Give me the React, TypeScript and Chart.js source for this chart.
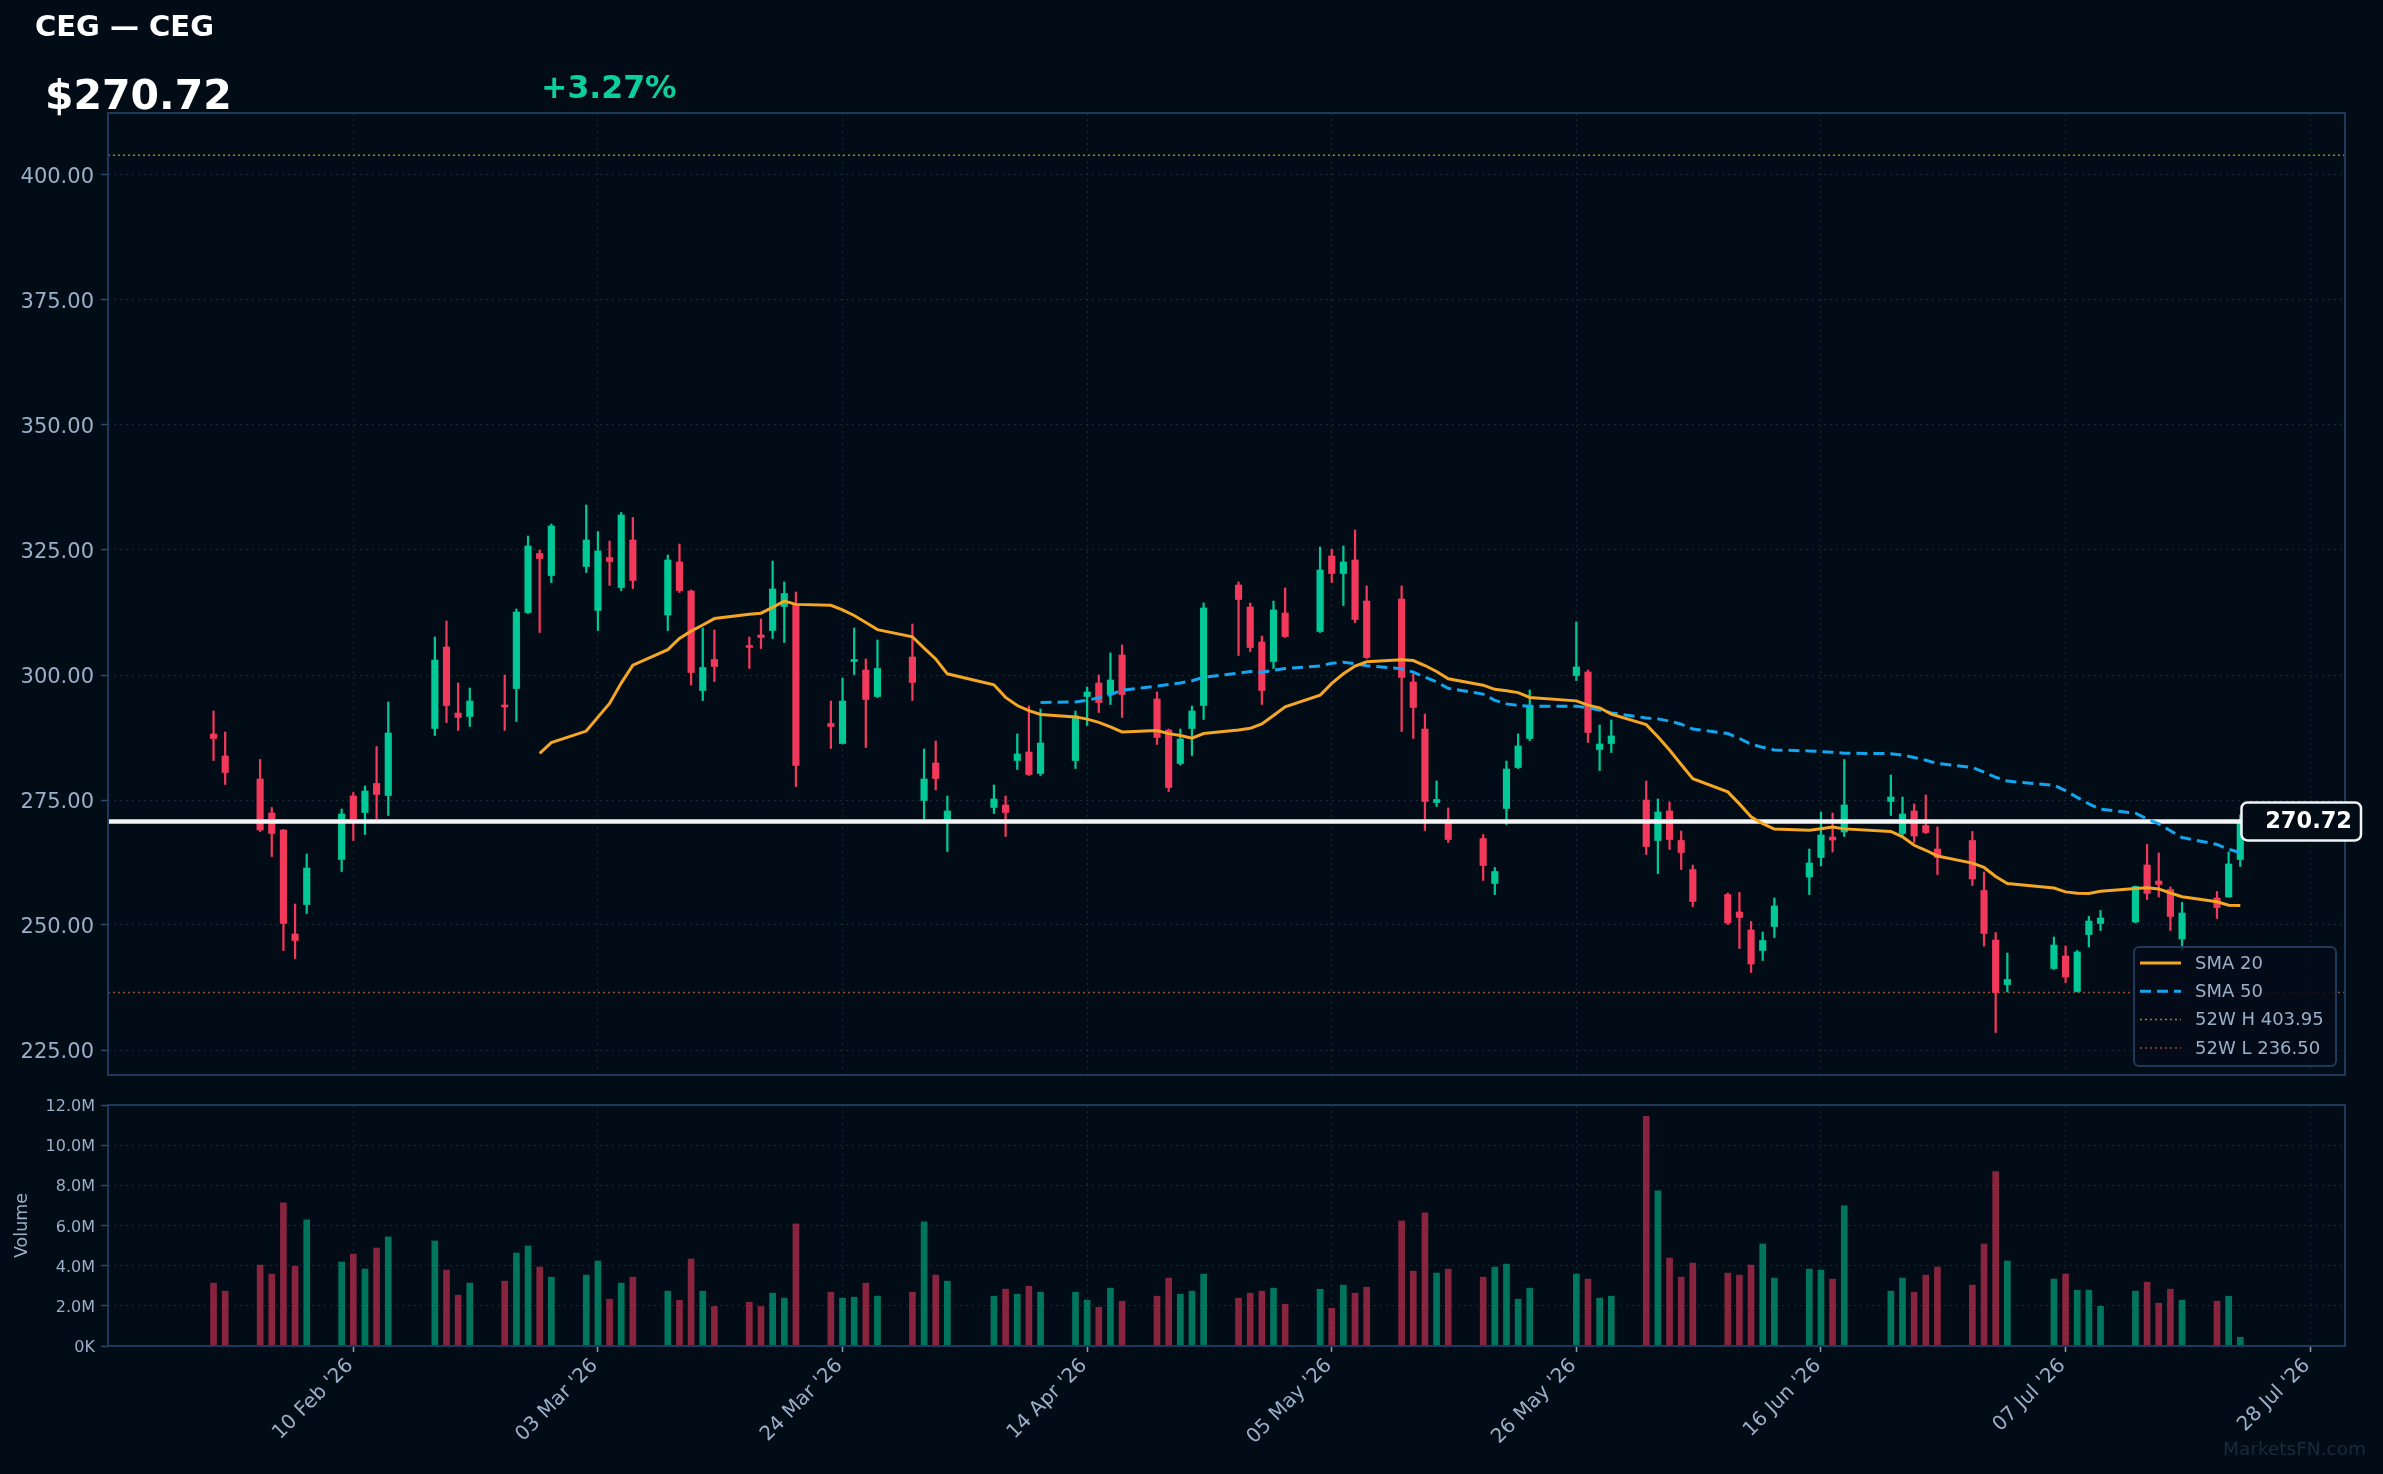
import React, { useEffect, useRef } from "react";
import { Chart, registerables } from "chart.js";

Chart.register(...registerables);

// ---------- DATA ----------
const ticker = "CEG";
const companyName = "CEG";
const lastPrice = 270.72;
const changePct = 3.27;
const high52w = 403.95;
const low52w = 236.5;

const dates: string[] = [
  "2026-01-29", "2026-01-30",
  "2026-02-02", "2026-02-03", "2026-02-04", "2026-02-05", "2026-02-06",
  "2026-02-09", "2026-02-10", "2026-02-11", "2026-02-12", "2026-02-13",
  "2026-02-17", "2026-02-18", "2026-02-19", "2026-02-20",
  "2026-02-23", "2026-02-24", "2026-02-25", "2026-02-26", "2026-02-27",
  "2026-03-02", "2026-03-03", "2026-03-04", "2026-03-05", "2026-03-06",
  "2026-03-09", "2026-03-10", "2026-03-11", "2026-03-12", "2026-03-13",
  "2026-03-16", "2026-03-17", "2026-03-18", "2026-03-19", "2026-03-20",
  "2026-03-23", "2026-03-24", "2026-03-25", "2026-03-26", "2026-03-27",
  "2026-03-30", "2026-03-31", "2026-04-01", "2026-04-02",
  "2026-04-06", "2026-04-07", "2026-04-08", "2026-04-09", "2026-04-10",
  "2026-04-13", "2026-04-14", "2026-04-15", "2026-04-16", "2026-04-17",
  "2026-04-20", "2026-04-21", "2026-04-22", "2026-04-23", "2026-04-24",
  "2026-04-27", "2026-04-28", "2026-04-29", "2026-04-30", "2026-05-01",
  "2026-05-04", "2026-05-05", "2026-05-06", "2026-05-07", "2026-05-08",
  "2026-05-11", "2026-05-12", "2026-05-13", "2026-05-14", "2026-05-15",
  "2026-05-18", "2026-05-19", "2026-05-20", "2026-05-21", "2026-05-22",
  "2026-05-26", "2026-05-27", "2026-05-28", "2026-05-29",
  "2026-06-01", "2026-06-02", "2026-06-03", "2026-06-04", "2026-06-05",
  "2026-06-08", "2026-06-09", "2026-06-10", "2026-06-11", "2026-06-12",
  "2026-06-15", "2026-06-16", "2026-06-17", "2026-06-18",
  "2026-06-22", "2026-06-23", "2026-06-24", "2026-06-25", "2026-06-26",
  "2026-06-29", "2026-06-30", "2026-07-01", "2026-07-02",
  "2026-07-06", "2026-07-07", "2026-07-08", "2026-07-09", "2026-07-10",
  "2026-07-13", "2026-07-14", "2026-07-15", "2026-07-16", "2026-07-17",
  "2026-07-20", "2026-07-21", "2026-07-22",
];

const opens: number[] = [
  288.2, 283.8,
  279.2, 272.4, 269.0, 248.2, 254.1,
  263.1, 275.8, 272.5, 278.3, 275.9,
  289.3, 305.6, 292.4, 291.7,
  293.9, 297.3, 312.5, 324.3, 319.9,
  321.7, 312.9, 323.5, 317.5, 327.0,
  312.0, 322.6, 316.8, 296.9, 303.1,
  305.8, 308.0, 308.9, 313.7, 314.2,
  290.3, 286.3, 302.7, 301.0, 295.7,
  303.6, 274.9, 282.4, 270.5,
  273.5, 274.0, 282.9, 284.6, 280.3,
  282.9, 295.7, 298.4, 296.1, 304.0,
  295.2, 289.0, 282.3, 289.3, 293.9,
  318.0, 313.6, 306.6, 302.7, 312.4,
  308.7, 323.8, 320.3, 323.0, 314.8,
  315.2, 298.6, 289.2, 274.5, 271.0,
  267.3, 258.3, 273.3, 281.5, 287.3,
  299.9, 300.6, 285.1, 286.3,
  275.0, 266.9, 272.8, 266.9, 261.1,
  256.1, 252.6, 249.0, 244.9, 249.7,
  259.6, 263.5, 267.6, 268.6,
  274.7, 268.3, 272.8, 269.9, 265.2,
  266.9, 256.9, 247.0, 238.1,
  241.3, 243.8, 236.7, 248.1, 250.3,
  250.6, 262.0, 258.8, 257.1, 247.2,
  255.4, 255.6, 263.1,
];

const highs: number[] = [
  292.8, 288.6,
  283.1, 273.5, 269.1, 254.2, 264.2,
  273.2, 276.5, 277.8, 285.7, 294.6,
  307.6, 310.8, 298.4, 297.4,
  300.0, 313.2, 327.8, 325.0, 330.2,
  334.0, 328.7, 326.8, 332.5, 331.5,
  324.0, 326.2, 317.0, 309.4, 309.0,
  307.6, 311.2, 322.8, 318.6, 316.6,
  294.8, 299.4, 309.4, 303.2, 307.0,
  310.2, 285.2, 286.8, 275.8,
  278.0, 275.8, 288.2, 293.8, 293.2,
  292.8, 297.6, 300.0, 304.4, 306.0,
  296.6, 289.2, 289.2, 293.8, 314.4,
  318.6, 314.4, 307.8, 314.8, 317.4,
  325.6, 325.2, 325.8, 329.0, 317.8,
  317.8, 300.2, 292.2, 278.8, 273.4,
  268.1, 261.5, 282.8, 288.2, 297.0,
  310.6, 301.0, 290.0, 291.0,
  278.8, 275.2, 274.6, 268.8, 262.0,
  256.4, 256.5, 250.7, 248.6, 255.4,
  265.2, 272.6, 272.4, 283.1,
  280.0, 275.6, 274.2, 276.0, 269.6,
  268.7, 260.6, 248.5, 244.4,
  247.6, 245.8, 244.9, 251.7, 252.9,
  257.8, 266.1, 264.4, 257.6, 254.5,
  256.7, 264.6, 272.0,
];

const lows: number[] = [
  282.9, 278.1,
  268.7, 263.7, 244.9, 243.3, 252.3,
  260.7, 266.9, 268.1, 271.3, 271.9,
  287.9, 290.5, 288.9, 289.7,
  288.9, 290.7, 312.3, 308.5, 318.5,
  320.5, 308.9, 317.9, 316.9, 317.3,
  308.9, 316.5, 298.0, 294.9, 298.7,
  301.3, 305.3, 307.3, 306.5, 277.7,
  285.3, 286.2, 300.1, 285.5, 295.5,
  294.9, 271.2, 277.0, 264.7,
  272.3, 267.7, 281.1, 279.9, 279.9,
  281.3, 289.9, 292.5, 294.1, 291.5,
  286.1, 276.7, 282.0, 283.9, 291.1,
  303.9, 304.7, 294.1, 301.3, 307.5,
  308.5, 318.5, 313.9, 310.5, 303.3,
  288.7, 287.3, 268.9, 273.7, 266.5,
  258.9, 256.1, 270.1, 281.3, 286.9,
  298.9, 286.5, 280.9, 284.5,
  264.1, 260.3, 265.1, 261.1, 253.7,
  250.1, 245.3, 240.5, 242.9, 247.5,
  256.1, 261.8, 264.6, 267.7,
  271.9, 267.6, 266.5, 268.3, 260.1,
  257.9, 245.8, 228.5, 236.6,
  241.1, 238.5, 236.6, 245.6, 248.9,
  250.4, 255.1, 255.6, 248.9, 244.9,
  251.3, 255.6, 261.7,
];

const closes: number[] = [
  287.3, 280.5,
  269.0, 268.3, 250.3, 246.9, 261.4,
  272.2, 271.1, 276.8, 276.1, 288.4,
  303.0, 293.9, 291.5, 294.8,
  293.6, 312.6, 325.8, 323.3, 329.8,
  327.0, 324.8, 322.7, 332.0, 318.9,
  323.0, 316.9, 300.5, 301.5, 301.7,
  305.5, 307.5, 317.2, 316.3, 281.9,
  289.7, 294.8, 303.1, 295.1, 301.3,
  298.5, 279.2, 279.3, 272.8,
  275.2, 272.5, 284.2, 280.1, 286.4,
  291.8, 296.6, 294.5, 299.0, 296.1,
  287.5, 277.5, 287.2, 292.8, 313.4,
  315.1, 305.5, 296.9, 313.0, 307.7,
  321.0, 320.3, 322.6, 311.1, 303.5,
  299.5, 293.5, 274.7, 275.1, 267.1,
  261.9, 260.7, 281.2, 285.8, 293.8,
  301.6, 288.5, 286.2, 287.8,
  265.7, 272.6, 267.1, 264.5, 254.7,
  250.4, 251.5, 242.2, 246.9, 253.8,
  262.4, 268.0, 267.0, 274.0,
  275.6, 272.2, 267.8, 268.5, 263.5,
  259.2, 248.3, 236.5, 239.1,
  246.0, 239.6, 244.6, 250.8, 251.4,
  257.7, 256.3, 258.1, 251.7, 252.4,
  253.5, 262.2, 270.72,
];

// volume in millions of shares
const volumesM: number[] = [
  3.13, 2.73,
  4.03, 3.58, 7.13, 3.97, 6.28,
  4.18, 4.58, 3.83, 4.88, 5.43,
  5.23, 3.78, 2.53, 3.13,
  3.23, 4.63, 4.98, 3.93, 3.43,
  3.53, 4.23, 2.33, 3.13, 3.43,
  2.73, 2.28, 4.33, 2.73, 1.97,
  2.18, 1.97, 2.63, 2.38, 6.08,
  2.68, 2.38, 2.43, 3.13, 2.48,
  2.68, 6.18, 3.53, 3.23,
  2.48, 2.83, 2.58, 2.98, 2.68,
  2.68, 2.28, 1.93, 2.88, 2.23,
  2.48, 3.38, 2.58, 2.73, 3.58,
  2.38, 2.63, 2.73, 2.88, 2.08,
  2.83, 1.88, 3.03, 2.63, 2.93,
  6.23, 3.73, 6.63, 3.63, 3.83,
  3.43, 3.93, 4.08, 2.33, 2.88,
  3.58, 3.33, 2.38, 2.48,
  11.43, 7.73, 4.38, 3.43, 4.13,
  3.63, 3.53, 4.03, 5.08, 3.38,
  3.83, 3.78, 3.33, 6.98,
  2.73, 3.38, 2.68, 3.53, 3.93,
  3.03, 5.08, 8.68, 4.23,
  3.33, 3.58, 2.78, 2.78, 1.98,
  2.73, 3.18, 2.13, 2.83, 2.28,
  2.23, 2.48, 0.43,
];

const xTickDates: string[] = [
  "2026-02-10", "2026-03-03", "2026-03-24", "2026-04-14", "2026-05-05",
  "2026-05-26", "2026-06-16", "2026-07-07", "2026-07-28",
];
const xTickLabels: string[] = [
  "10 Feb '26", "03 Mar '26", "24 Mar '26", "14 Apr '26", "05 May '26",
  "26 May '26", "16 Jun '26", "07 Jul '26", "28 Jul '26",
];
const priceTicks: number[] = [225, 250, 275, 300, 325, 350, 375, 400];
const volumeTicksM: number[] = [0, 2, 4, 6, 8, 10, 12];

// ---------- STYLE ----------
const FONT = "'DejaVu Sans', sans-serif";
const BG = "#020c17";
const FRAME = "#1e3a5a";
const GRID = "rgba(52, 78, 108, 0.45)";
const TICK_TEXT = "#9bafc8";
const UP = "#00c896";
const DOWN = "#f2385b";
const UP_VOL = "rgba(0, 200, 150, 0.56)";
const DOWN_VOL = "rgba(242, 56, 91, 0.56)";
const X_MIN = 18.94;
const X_MAX = 210.99;

function dayNum(s: string): number {
  const [y, m, d] = s.split("-").map(Number);
  return Math.round((Date.UTC(y, m - 1, d) - Date.UTC(2026, 0, 1)) / 86400000);
}

function movingAverage(values: number[], n: number): (number | null)[] {
  return values.map((_, i) =>
    i < n - 1 ? null : values.slice(i - n + 1, i + 1).reduce((a, b) => a + b, 0) / n
  );
}

const xs = dates.map(dayNum);
const tickDays = xTickDates.map(dayNum);
const isUp = (i: number) => closes[i] >= opens[i];

function roundRect(ctx: CanvasRenderingContext2D, x: number, y: number, w: number, h: number, r: number) {
  ctx.beginPath();
  ctx.moveTo(x + r, y);
  ctx.lineTo(x + w - r, y);
  ctx.arcTo(x + w, y, x + w, y + r, r);
  ctx.lineTo(x + w, y + h - r);
  ctx.arcTo(x + w, y + h, x + w - r, y + h, r);
  ctx.lineTo(x + r, y + h);
  ctx.arcTo(x, y + h, x, y + h - r, r);
  ctx.lineTo(x, y + r);
  ctx.arcTo(x, y, x + r, y, r);
  ctx.closePath();
}

const framePlugin = {
  id: "frame",
  afterDraw(chart: any) {
    const { ctx, chartArea: a } = chart;
    ctx.save();
    ctx.strokeStyle = FRAME;
    ctx.lineWidth = 2;
    ctx.strokeRect(a.left, a.top, a.right - a.left, a.bottom - a.top);
    ctx.restore();
  },
};

const overlayPlugin = {
  id: "overlay",
  afterDraw(chart: any) {
    const { ctx, chartArea: a } = chart;
    // legend
    const legendItems = chart.data.datasets.filter((d: any) => d.showInLegend);
    const bw = 202, bh = 119;
    const bx = a.right - 9 - bw, by = a.bottom - 9 - bh;
    ctx.save();
    roundRect(ctx, bx, by, bw, bh, 5);
    ctx.fillStyle = "rgba(2, 12, 23, 0.85)";
    ctx.fill();
    ctx.strokeStyle = FRAME;
    ctx.lineWidth = 2;
    ctx.stroke();
    legendItems.forEach((d: any, i: number) => {
      const cy = by + 16 + i * 28.3;
      ctx.beginPath();
      ctx.setLineDash(d.borderDash || []);
      ctx.strokeStyle = d.borderColor;
      ctx.lineWidth = d.borderWidth;
      ctx.moveTo(bx + 6, cy);
      ctx.lineTo(bx + 47, cy);
      ctx.stroke();
      ctx.setLineDash([]);
      ctx.fillStyle = TICK_TEXT;
      ctx.font = `18px ${FONT}`;
      ctx.textAlign = "left";
      ctx.textBaseline = "middle";
      ctx.fillText(d.label, bx + 61, cy + 1);
    });
    // last price label
    const py = chart.scales.y.getPixelForValue(lastPrice);
    const lx = a.right - 103.5, rw = 119.5, rh = 38;
    roundRect(ctx, lx, py - rh / 2, rw, rh, 6);
    ctx.fillStyle = BG;
    ctx.fill();
    ctx.strokeStyle = "#f4f4f4";
    ctx.lineWidth = 2.5;
    ctx.stroke();
    ctx.fillStyle = "#ffffff";
    ctx.font = `bold 22.5px ${FONT}`;
    ctx.textAlign = "right";
    ctx.textBaseline = "middle";
    ctx.fillText(lastPrice.toFixed(2), lx + rw - 9, py + 1);
    ctx.restore();
  },
};

const noScalePadding = (s: any) => {
  s.paddingTop = 0;
  s.paddingBottom = 0;
};

export default function App() {
  const mainRef = useRef<HTMLCanvasElement>(null);
  const volRef = useRef<HTMLCanvasElement>(null);

  useEffect(() => {
    const sma20 = movingAverage(closes, 20);
    const sma50 = movingAverage(closes, 50);
    const linePts = (arr: (number | null)[]) =>
      arr.map((v, i) => (v == null ? null : { x: xs[i], y: v })).filter(Boolean);

    const candleColor = (c: any) => (isUp(c.dataIndex) ? UP : DOWN);

    const mainChart = new Chart(mainRef.current!, {
      type: "line",
      data: {
        datasets: [
          {
            type: "line",
            label: "SMA 20",
            showInLegend: true,
            data: linePts(sma20),
            borderColor: "#f5a623",
            borderWidth: 3,
            pointRadius: 0,
            tension: 0,
            order: 0,
          } as any,
          {
            type: "line",
            label: "SMA 50",
            showInLegend: true,
            data: linePts(sma50),
            borderColor: "#13a6ee",
            borderWidth: 3,
            borderDash: [11, 6],
            pointRadius: 0,
            tension: 0,
            order: 0,
          } as any,
          {
            type: "line",
            label: `52W H ${high52w.toFixed(2)}`,
            showInLegend: true,
            data: [{ x: X_MIN, y: high52w }, { x: X_MAX, y: high52w }],
            borderColor: "#8c8c1c",
            borderWidth: 1.5,
            borderDash: [2, 3],
            pointRadius: 0,
            order: 5,
          } as any,
          {
            type: "line",
            label: `52W L ${low52w.toFixed(2)}`,
            showInLegend: true,
            data: [{ x: X_MIN, y: low52w }, { x: X_MAX, y: low52w }],
            borderColor: "#9c4a30",
            borderWidth: 1.5,
            borderDash: [2, 3],
            pointRadius: 0,
            order: 5,
          } as any,
          {
            type: "line",
            label: "Last",
            data: [{ x: X_MIN, y: lastPrice }, { x: X_MAX, y: lastPrice }],
            borderColor: "#f4f4f4",
            borderWidth: 4.5,
            pointRadius: 0,
            order: 1,
          } as any,
          {
            type: "bar",
            label: "Body",
            data: xs.map((x, i) => ({ x, y: [opens[i], closes[i]] })),
            backgroundColor: candleColor,
            barThickness: 6.5,
            minBarLength: 2,
            grouped: false,
            borderWidth: 0,
            order: 2,
          } as any,
          {
            type: "bar",
            label: "Wick",
            data: xs.map((x, i) => ({ x, y: [lows[i], highs[i]] })),
            backgroundColor: candleColor,
            barThickness: 1.6,
            grouped: false,
            borderWidth: 0,
            order: 3,
          } as any,
        ],
      },
      options: {
        animation: false,
        responsive: false,
        devicePixelRatio: 1,
        events: [],
        layout: { padding: { left: 0, top: 113, right: 38, bottom: 15 } },
        plugins: {
          legend: { display: false },
          tooltip: { enabled: false },
        },
        scales: {
          x: {
            type: "linear",
            min: X_MIN,
            max: X_MAX,
            offset: false,
            afterBuildTicks: (s: any) => {
              s.ticks = tickDays.map((v) => ({ value: v }));
            },
            afterFit: (s: any) => {
              s.height = 0;
              s.paddingLeft = 0;
              s.paddingRight = 0;
            },
            ticks: { display: false },
            grid: { color: GRID, lineWidth: 1, drawTicks: false, offset: false },
            border: { display: false, dash: [2, 4] },
          },
          y: {
            type: "linear",
            position: "left",
            min: 220,
            max: 412.4,
            afterBuildTicks: (s: any) => {
              s.ticks = priceTicks.map((v) => ({ value: v }));
            },
            afterFit: (s: any) => {
              s.width = 108;
              noScalePadding(s);
            },
            ticks: {
              color: TICK_TEXT,
              font: { family: FONT, size: 21 },
              padding: 7,
              labelOffset: 3,
              callback: (v: any) => Number(v).toFixed(2),
            },
            grid: { color: GRID, lineWidth: 1, tickLength: 7, tickColor: "#2c4a6c", tickWidth: 1.5 },
            border: { display: false, dash: [2, 4] },
          },
        },
      } as any,
      plugins: [framePlugin, overlayPlugin],
    });

    const volChart = new Chart(volRef.current!, {
      type: "bar",
      data: {
        datasets: [
          {
            label: "Volume",
            data: xs.map((x, i) => ({ x, y: volumesM[i] * 1e6 })),
            backgroundColor: (c: any) => (isUp(c.dataIndex) ? UP_VOL : DOWN_VOL),
            barThickness: 6,
            grouped: false,
            borderWidth: 0,
          } as any,
        ],
      },
      options: {
        animation: false,
        responsive: false,
        devicePixelRatio: 1,
        events: [],
        layout: { padding: { left: 0, top: 15, right: 38, bottom: 0 } },
        plugins: { legend: { display: false }, tooltip: { enabled: false } },
        scales: {
          x: {
            type: "linear",
            min: X_MIN,
            max: X_MAX,
            offset: false,
            afterBuildTicks: (s: any) => {
              s.ticks = tickDays.map((v) => ({ value: v }));
            },
            afterFit: (s: any) => {
              s.height = 128;
              s.paddingLeft = 0;
              s.paddingRight = 0;
            },
            ticks: {
              color: TICK_TEXT,
              font: { family: FONT, size: 20 },
              minRotation: 45,
              maxRotation: 45,
              autoSkip: false,
              padding: 2,
              labelOffset: -3,
              callback: (v: any) => {
                const i = tickDays.indexOf(Number(v));
                return i >= 0 ? xTickLabels[i] : "";
              },
            },
            grid: { color: GRID, lineWidth: 1, tickLength: 6, tickColor: "#8a9db5", tickWidth: 1.5, offset: false },
            border: { display: false, dash: [2, 4] },
          },
          y: {
            type: "linear",
            position: "left",
            min: 0,
            max: 12e6,
            afterBuildTicks: (s: any) => {
              s.ticks = volumeTicksM.map((v) => ({ value: v * 1e6 }));
            },
            afterFit: (s: any) => {
              s.width = 108;
              noScalePadding(s);
            },
            ticks: {
              color: TICK_TEXT,
              font: { family: FONT, size: 16 },
              padding: 6,
              labelOffset: 2,
              callback: (v: any) => (Number(v) === 0 ? "0K" : (Number(v) / 1e6).toFixed(1) + "M"),
            },
            title: {
              display: true,
              text: "Volume",
              color: TICK_TEXT,
              font: { family: FONT, size: 17.5 },
              padding: { top: 12, bottom: 0 },
            },
            grid: { color: GRID, lineWidth: 1, tickLength: 7, tickColor: "#2c4a6c", tickWidth: 1.5 },
            border: { display: false, dash: [2, 4] },
          },
        },
      } as any,
      plugins: [framePlugin],
    });

    return () => {
      mainChart.destroy();
      volChart.destroy();
    };
  }, []);

  return (
    <div
      style={{
        position: "fixed",
        left: 0,
        top: 0,
        width: 2383,
        height: 1474,
        background: BG,
        overflow: "hidden",
        fontFamily: FONT,
      }}
    >
      <canvas ref={mainRef} width={2383} height={1090} style={{ position: "absolute", left: 0, top: 0 }} />
      <canvas ref={volRef} width={2383} height={384} style={{ position: "absolute", left: 0, top: 1090 }} />
      <div
        style={{
          position: "absolute", left: 35, top: 11.5, fontSize: 29, lineHeight: "29px",
          fontWeight: "bold", color: "#ffffff", whiteSpace: "nowrap",
        }}
      >
        {`${ticker} — ${companyName}`}
      </div>
      <div
        style={{
          position: "absolute", left: 45, top: 74.5, fontSize: 41, lineHeight: "41px",
          fontWeight: "bold", color: "#ffffff", whiteSpace: "nowrap",
        }}
      >
        {`$${lastPrice.toFixed(2)}`}
      </div>
      <div
        style={{
          position: "absolute", left: 541, top: 71.5, fontSize: 31.5, lineHeight: "31.5px",
          fontWeight: "bold", color: "#0ccf9d", whiteSpace: "nowrap",
        }}
      >
        {`${changePct >= 0 ? "+" : ""}${changePct.toFixed(2)}%`}
      </div>
      <div
        style={{
          position: "absolute", left: 2223, top: 1440, fontSize: 18.5, lineHeight: "18.5px",
          color: "#1b2a3b", whiteSpace: "nowrap",
        }}
      >
        MarketsFN.com
      </div>
    </div>
  );
}
